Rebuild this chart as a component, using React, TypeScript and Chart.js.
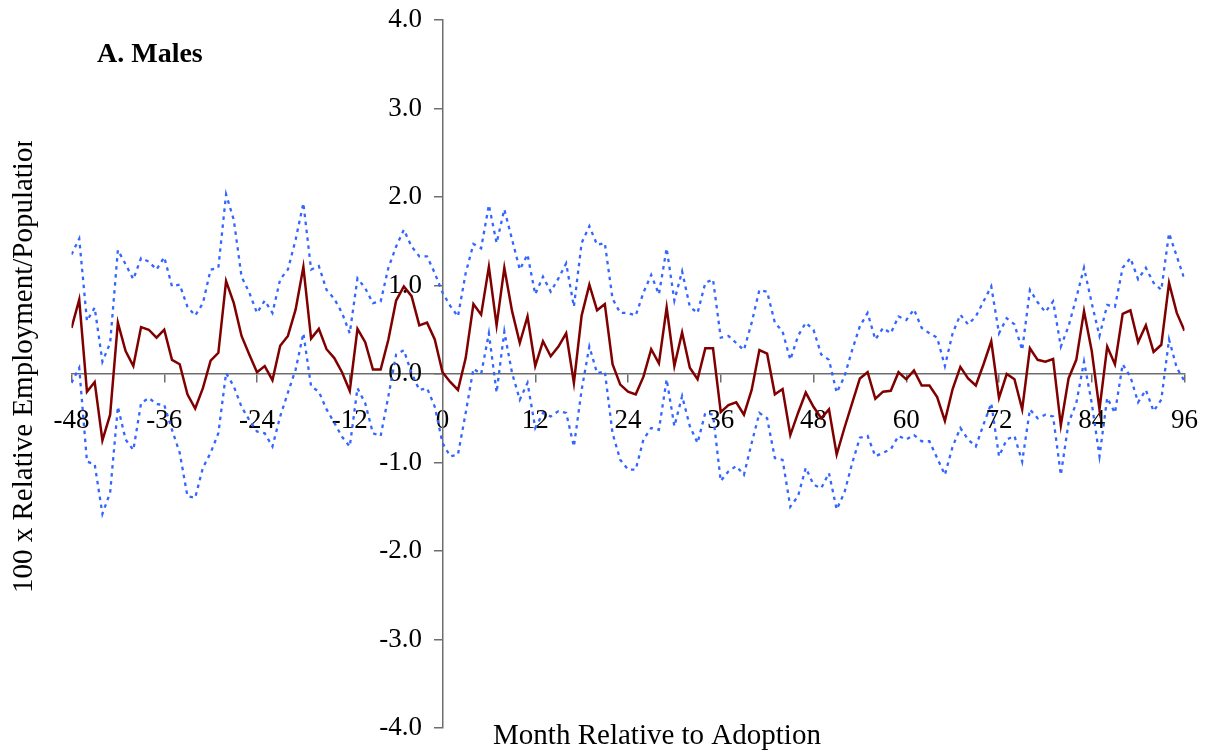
import React, { useEffect, useRef } from 'react';
import { Chart, registerables } from 'chart.js';

Chart.register(...registerables);

// Month relative to adoption: -48 ... 96
const months: number[] = Array.from({ length: 145 }, (_, i) => i - 48);

// Point estimate (solid dark red)
const estimate: number[] = [
  0.52, 0.84, -0.20, -0.09, -0.75, -0.46, 0.58, 0.26, 0.09, 0.53, 0.50, 0.41,
  0.50, 0.16, 0.11, -0.23, -0.39, -0.16, 0.15, 0.24, 1.05, 0.80, 0.43, 0.22,
  0.02, 0.09, -0.07, 0.32, 0.43, 0.73, 1.21, 0.40, 0.51, 0.28, 0.18, 0.02,
  -0.19, 0.51, 0.36, 0.05, 0.05, 0.39, 0.83, 0.99, 0.88, 0.55, 0.58, 0.39,
  0.02, -0.09, -0.18, 0.18, 0.79, 0.67, 1.21, 0.55, 1.20, 0.71, 0.35, 0.65,
  0.09, 0.37, 0.20, 0.31, 0.46, -0.10, 0.66, 1.01, 0.72, 0.79, 0.11, -0.12,
  -0.20, -0.23, -0.03, 0.28, 0.12, 0.75, 0.09, 0.47, 0.07, -0.06, 0.29, 0.29,
  -0.43, -0.35, -0.32, -0.46, -0.18, 0.27, 0.23, -0.23, -0.17, -0.69, -0.44, -0.21,
  -0.37, -0.50, -0.40, -0.91, -0.61, -0.33, -0.05, 0.02, -0.28, -0.20, -0.19, 0.02,
  -0.06, 0.04, -0.13, -0.13, -0.26, -0.53, -0.17, 0.08, -0.05, -0.13, 0.11, 0.37,
  -0.27, 0.00, -0.06, -0.40, 0.29, 0.16, 0.14, 0.17, -0.58, -0.05, 0.16, 0.71,
  0.26, -0.40, 0.31, 0.11, 0.68, 0.72, 0.36, 0.55, 0.25, 0.33, 1.03, 0.69,
  0.49,
];

// Upper confidence bound (dotted blue)
const upperBound: number[] = [
  1.35, 1.53, 0.60, 0.75, 0.14, 0.35, 1.40, 1.24, 1.07, 1.31, 1.27, 1.18,
  1.32, 0.99, 1.01, 0.76, 0.66, 0.80, 1.18, 1.20, 2.03, 1.74, 1.10, 0.92,
  0.69, 0.83, 0.69, 1.07, 1.18, 1.52, 1.93, 1.18, 1.22, 0.95, 0.85, 0.69,
  0.46, 1.08, 0.97, 0.80, 0.82, 1.20, 1.44, 1.63, 1.44, 1.33, 1.33, 1.14,
  0.92, 0.77, 0.65, 1.14, 1.47, 1.42, 1.91, 1.48, 1.86, 1.52, 1.18, 1.35,
  0.90, 1.10, 0.93, 1.08, 1.25, 0.76, 1.48, 1.67, 1.46, 1.48, 0.85, 0.69,
  0.69, 0.66, 0.92, 1.12, 0.90, 1.42, 0.83, 1.16, 0.76, 0.69, 1.03, 1.07,
  0.41, 0.43, 0.35, 0.27, 0.58, 0.95, 0.93, 0.58, 0.48, 0.16, 0.43, 0.58,
  0.50, 0.22, 0.16, -0.21, -0.03, 0.27, 0.54, 0.69, 0.39, 0.52, 0.46, 0.65,
  0.61, 0.73, 0.52, 0.46, 0.41, 0.09, 0.46, 0.67, 0.56, 0.65, 0.82, 0.99,
  0.46, 0.63, 0.56, 0.27, 0.95, 0.81, 0.70, 0.82, 0.31, 0.54, 0.86, 1.20,
  0.80, 0.43, 0.78, 0.76, 1.20, 1.31, 1.07, 1.20, 1.03, 0.95, 1.59, 1.33,
  1.07,
];

// Lower confidence bound (dotted blue)
const lowerBound: number[] = [
  -0.10, 0.07, -0.99, -1.02, -1.58, -1.34, -0.37, -0.74, -0.86, -0.33, -0.27, -0.34,
  -0.35, -0.63, -0.89, -1.38, -1.40, -1.06, -0.89, -0.67, 0.01, -0.14, -0.37, -0.52,
  -0.65, -0.67, -0.82, -0.48, -0.21, 0.05, 0.46, -0.14, -0.20, -0.40, -0.55, -0.71,
  -0.82, -0.16, -0.33, -0.67, -0.70, -0.25, 0.22, 0.27, 0.01, -0.18, -0.16, -0.37,
  -0.78, -0.93, -0.91, -0.44, 0.06, 0.00, 0.46, -0.21, 0.48, 0.01, -0.29, -0.10,
  -0.61, -0.44, -0.48, -0.42, -0.44, -0.82, -0.18, 0.31, 0.01, 0.03, -0.67, -0.97,
  -1.08, -1.08, -0.74, -0.61, -0.63, -0.06, -0.59, -0.25, -0.59, -0.78, -0.44, -0.46,
  -1.21, -1.10, -1.04, -1.14, -0.78, -0.44, -0.50, -0.95, -0.97, -1.50, -1.38, -1.06,
  -1.25, -1.29, -1.12, -1.53, -1.34, -1.01, -0.72, -0.70, -0.93, -0.89, -0.85, -0.70,
  -0.74, -0.69, -0.76, -0.76, -0.95, -1.14, -0.82, -0.61, -0.74, -0.82, -0.57, -0.33,
  -0.93, -0.74, -0.70, -0.99, -0.40, -0.50, -0.46, -0.48, -1.14, -0.55, -0.33, 0.14,
  -0.33, -0.93, -0.27, -0.44, 0.11, -0.03, -0.32, -0.18, -0.42, -0.29, 0.39, 0.07,
  -0.08,
];

const xTickValues: number[] = [-48, -36, -24, -12, 0, 12, 24, 36, 48, 60, 72, 84, 96];
const yTickValues: number[] = [-4, -3, -2, -1, 0, 1, 2, 3, 4];

const panelTitle = 'A. Males';
const xTitle = 'Month Relative to Adoption';
const yTitle = '100 x Relative Employment/Population';

const FONT = "'Liberation Serif', 'Times New Roman', serif";
const AXIS_COLOR = '#6e6e6e';
const Y_LABEL_GAP = 20.5;

// Chart.js puts y labels of an axis placed by value right on the axis line;
// shift them left of the tick marks, as in the reference.
const yLabelShift = {
  id: 'yLabelShift',
  beforeDraw(chart: any) {
    const s = chart.scales.y;
    if (!s || typeof s._computeLabelItems !== 'function') return;
    const items = s._computeLabelItems(chart.chartArea);
    items.forEach((it: any) => {
      if (it.options && it.options.translation) it.options.translation[0] -= Y_LABEL_GAP;
    });
    s._labelItems = items;
  },
};

const textPlugin = {
  id: 'panelText',
  afterDraw(chart: any) {
    const ctx: CanvasRenderingContext2D = chart.ctx;
    ctx.save();
    ctx.fillStyle = '#000000';
    ctx.textBaseline = 'alphabetic';
    ctx.font = `bold 28px ${FONT}`;
    ctx.textAlign = 'left';
    ctx.fillText(panelTitle, 97, 62);
    ctx.font = `29px ${FONT}`;
    ctx.textAlign = 'center';
    ctx.fillText(xTitle, 657, 744);
    ctx.beginPath();
    ctx.rect(0, 141, 60, 615);
    ctx.clip();
    ctx.translate(32, 593);
    ctx.rotate(-Math.PI / 2);
    ctx.textAlign = 'left';
    ctx.fillText(yTitle, 0, 0);
    ctx.restore();
  },
};

export default function App() {
  const canvasRef = useRef<HTMLCanvasElement | null>(null);

  useEffect(() => {
    const canvas = canvasRef.current;
    if (!canvas) return;
    const chart = new Chart(canvas, {
      type: 'line',
      data: {
        datasets: [
          {
            label: 'Estimate',
            data: months.map((m, i) => ({ x: m, y: estimate[i] })),
            borderColor: '#800000',
            borderWidth: 2.5,
            pointRadius: 0,
            tension: 0,
            fill: false,
          },
          {
            label: 'Upper',
            data: months.map((m, i) => ({ x: m, y: upperBound[i] })),
            borderColor: '#3366ff',
            borderWidth: 2.3,
            borderDash: [3.5, 4.5],
            pointRadius: 0,
            tension: 0,
            fill: false,
          },
          {
            label: 'Lower',
            data: months.map((m, i) => ({ x: m, y: lowerBound[i] })),
            borderColor: '#3366ff',
            borderWidth: 2.3,
            borderDash: [3.5, 4.5],
            pointRadius: 0,
            tension: 0,
            fill: false,
          },
        ],
      },
      options: {
        responsive: false,
        animation: false,
        devicePixelRatio: 1,
        layout: { padding: { left: 71.5, right: 25.5, top: 20, bottom: 28 } },
        plugins: {
          legend: { display: false },
          title: { display: false },
          tooltip: { enabled: false },
        },
        scales: {
          x: {
            type: 'linear',
            position: { y: 0 } as any,
            min: -48,
            max: 96,
            afterBuildTicks: (scale: any) => {
              scale.ticks = xTickValues.map((v) => ({ value: v }));
            },
            afterFit: (scale: any) => {
              scale.height = 0;
              scale.paddingLeft = 0;
              scale.paddingRight = 0;
            },
            grid: {
              drawOnChartArea: false,
              drawTicks: true,
              tickLength: 8,
              color: AXIS_COLOR,
              lineWidth: 1.5,
            },
            border: { display: true, color: AXIS_COLOR, width: 1.5 },
            ticks: {
              autoSkip: false,
              maxRotation: 0,
              padding: 23,
              color: '#000000',
              font: { family: FONT, size: 27 },
              callback: (v: any) => String(v),
            },
          },
          y: {
            type: 'linear',
            position: { x: 0 } as any,
            min: -4,
            max: 4,
            afterBuildTicks: (scale: any) => {
              scale.ticks = yTickValues.map((v) => ({ value: v }));
            },
            afterFit: (scale: any) => {
              scale.width = 0;
              scale.paddingTop = 0;
              scale.paddingBottom = 0;
            },
            grid: {
              drawOnChartArea: false,
              drawTicks: true,
              tickLength: 8,
              color: AXIS_COLOR,
              lineWidth: 1.5,
            },
            border: { display: true, color: AXIS_COLOR, width: 1.5 },
            ticks: {
              autoSkip: false,
              padding: 12.5,
              color: '#000000',
              font: { family: FONT, size: 27 },
              callback: (v: any) => Number(v).toFixed(1),
            },
          },
        },
      },
      plugins: [yLabelShift, textPlugin],
    });
    return () => chart.destroy();
  }, []);

  return (
    <div style={{ position: 'absolute', left: 0, top: 0, width: 1210, height: 756, background: '#ffffff' }}>
      <canvas ref={canvasRef} width={1210} height={756} style={{ display: 'block' }} />
    </div>
  );
}
